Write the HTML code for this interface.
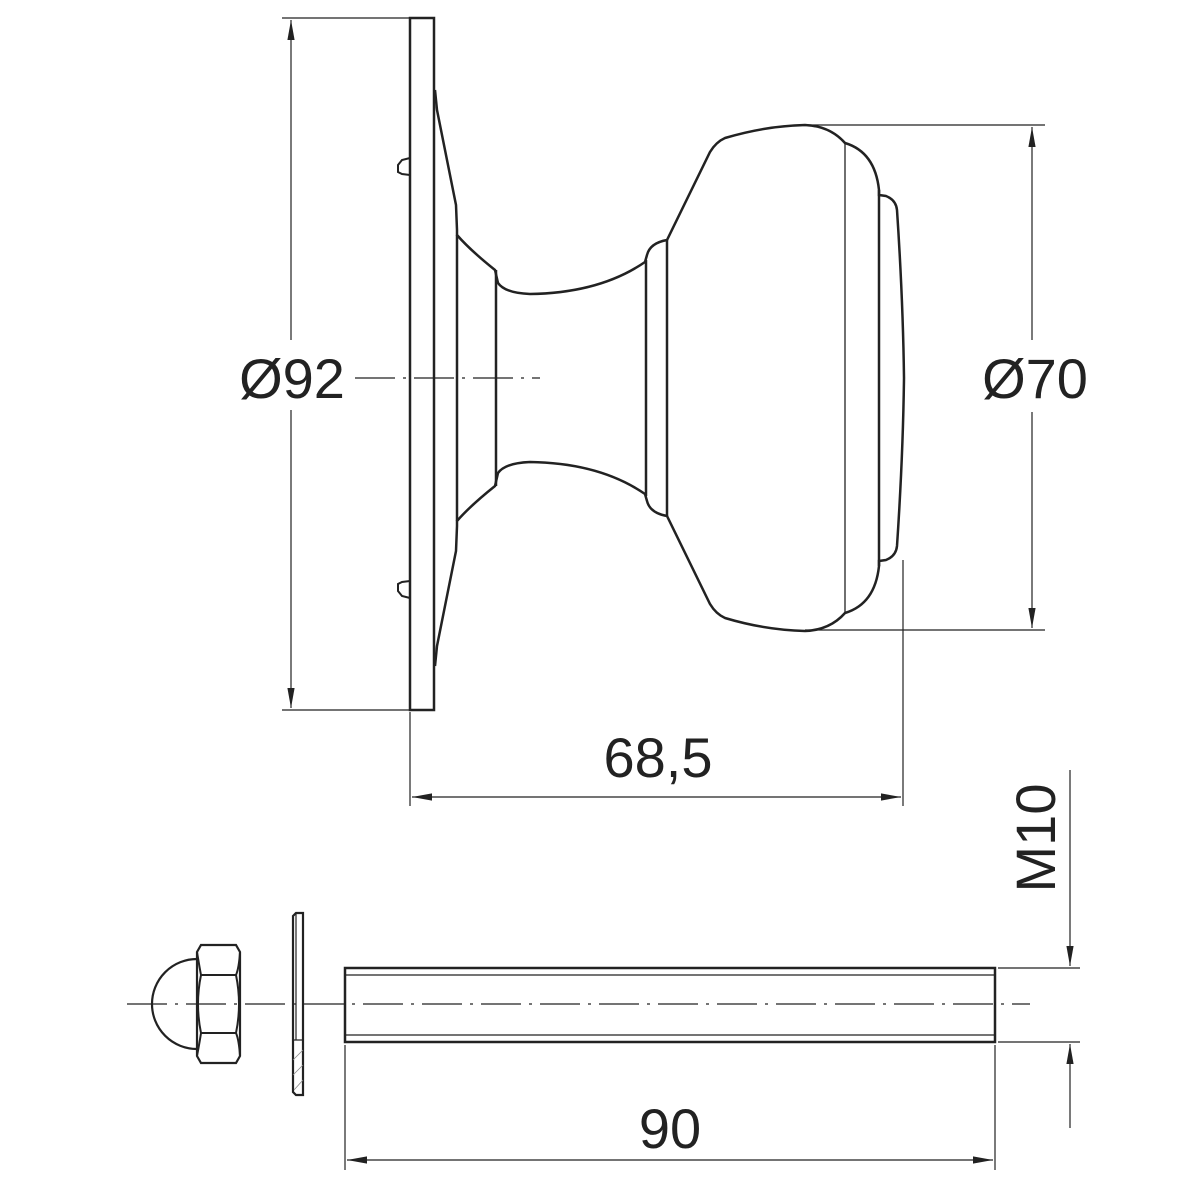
<!DOCTYPE html>
<html><head><style>body{margin:0;background:#fff}svg{display:block}</style></head><body>
<svg width="1200" height="1200" viewBox="0 0 1200 1200" xmlns="http://www.w3.org/2000/svg">
<defs>
<marker id="a" viewBox="0 0 10 10" refX="10" refY="5" markerWidth="20" markerHeight="20" markerUnits="userSpaceOnUse" orient="auto-start-reverse"><path d="M0,3.2 L10,5 L0,6.8 z" fill="#222"/></marker>
<g id="half">
<path d="M435,90 Q436,100 437,110 L456,205 L457,230 L457,235 Q470,250 495,270 L498,283 Q505,293 530,294 Q600,293 645,262 L647,255 Q650,243 667,240 L710,152 Q716,142 725,138 Q765,126 805,125 Q830,126 845,143 Q875,152 879,190 L879,195 L886,196 Q896,200 897,210 Q903,300 904,378" fill="none" stroke="#222" stroke-width="2.5"/>
<path d="M457,235 L457,378 M496,270 L496,378 M646,260 L646,378 M667,240 L667,378 M879,190 L879,378" stroke="#222" stroke-width="2.5" fill="none"/>
<path d="M410,158 L402,160 L398,165 L398,172 L402,174 L410,175" fill="none" stroke="#222" stroke-width="2"/>
</g>
</defs>
<g fill="none" stroke="#222">
<rect x="410" y="18" width="24" height="692" stroke-width="2.5"/>
<use href="#half"/>
<use href="#half" transform="translate(0,756) scale(1,-1)"/>
<path d="M845,143 L845,613" stroke-width="1.3"/>
<path d="M355,378 H540" stroke-width="1.2" stroke-dasharray="40,8,3,8"/>
<path d="M282,18 H410 M282,710 H410" stroke-width="1.2"/>
<line x1="291" y1="340" x2="291" y2="20" stroke-width="1.2" marker-end="url(#a)"/>
<line x1="291" y1="410" x2="291" y2="708" stroke-width="1.2" marker-end="url(#a)"/>
<path d="M805,125 H1045 M805,630 H1045" stroke-width="1.2"/>
<line x1="1032" y1="340" x2="1032" y2="127" stroke-width="1.2" marker-end="url(#a)"/>
<line x1="1032" y1="412" x2="1032" y2="628" stroke-width="1.2" marker-end="url(#a)"/>
<path d="M410,712 V806 M903,560 V806" stroke-width="1.2"/>
<line x1="412" y1="797" x2="901" y2="797" stroke-width="1.2" marker-start="url(#a)" marker-end="url(#a)"/>
<path d="M345,1045 V1170 M995,1045 V1170" stroke-width="1.2"/>
<line x1="347" y1="1160" x2="993" y2="1160" stroke-width="1.2" marker-start="url(#a)" marker-end="url(#a)"/>
<path d="M998,968 H1080 M998,1042 H1080" stroke-width="1.2"/>
<line x1="1070" y1="770" x2="1070" y2="966" stroke-width="1.2" marker-end="url(#a)"/>
<line x1="1070" y1="1128" x2="1070" y2="1044" stroke-width="1.2" marker-end="url(#a)"/>
<rect x="345" y="968" width="650" height="74" stroke-width="2.5"/>
<path d="M345,975 H995 M345,1035 H995" stroke-width="1.2"/>
<path d="M127,1004 H1030" stroke-width="1.2" stroke-dasharray="40,8,3,8"/>
<path d="M293,916 L296,913 L303,913 L303,1095 L296,1095 L293,1092 Z" stroke-width="2.2"/>
<path d="M296,913 V1040 M293,1040 H303" stroke-width="1.2"/>
<path d="M293,1060 L303,1050 M293,1075 L303,1065 M294,1090 L303,1080" stroke-width="0.8" stroke="#888"/>
<path d="M197,959 A45,45 0 0 0 197,1049" stroke-width="2.2"/>
<path d="M201,945 H236 L240,952 V1056 L236,1063 H201 L197,1056 V952 Z" stroke-width="2.2"/>
<path d="M197,952 Q200,970 201,975 H236 Q239,968 240,952 M197,1056 Q200,1040 201,1033 H236 Q239,1040 240,1056 M201,975 Q195,1004 201,1033 M236,975 Q242,1004 236,1033" stroke-width="2"/>
</g>
<g font-family="Liberation Sans, sans-serif" font-size="56" fill="#222" text-anchor="middle">
<text x="292" y="398">Ø92</text>
<text x="1035" y="398">Ø70</text>
<text x="658" y="777">68,5</text>
<text x="670" y="1148">90</text>
<text transform="translate(1055,838) rotate(-90)">M10</text>
</g>
</svg>
</body></html>
